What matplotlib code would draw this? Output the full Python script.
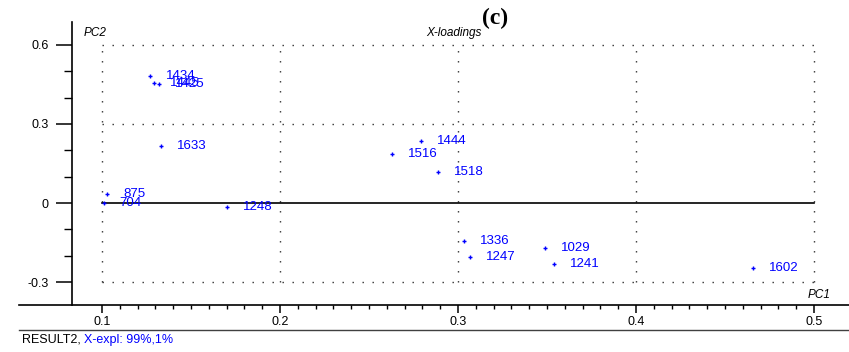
import numpy as np
import matplotlib
matplotlib.use("Agg")
import matplotlib.pyplot as plt
from matplotlib.ticker import FixedLocator
from matplotlib.lines import Line2D

plt.rcParams["font.family"] = ["Liberation Sans", "DejaVu Sans"]

# X-loadings
labels = ["1434", "1445", "1425", "1633", "875", "704", "1248",
          "1444", "1516", "1518", "1336", "1247", "1029", "1241", "1602"]
pc1 = [0.127, 0.129, 0.132, 0.133, 0.103, 0.101, 0.170,
       0.279, 0.263, 0.289, 0.3035, 0.307, 0.349, 0.354, 0.466]
pc2 = [0.483, 0.457, 0.452, 0.217, 0.035, -0.001, -0.016,
       0.234, 0.185, 0.119, -0.146, -0.204, -0.172, -0.232, -0.248]

x_major = [0.1, 0.2, 0.3, 0.4, 0.5]
y_major = [-0.3, 0, 0.3, 0.6]
x_labels = ["0.1", "0.2", "0.3", "0.4", "0.5"]
y_labels = ["-0.3", "0", "0.3", "0.6"]

W, H = 849, 352
fig = plt.figure(figsize=(W / 100, H / 100), dpi=100)
ax = fig.add_axes([19 / W, (H - 305) / H, 830 / W, 283 / H])
ax.set_xlim(0.0534, 0.5197)
ax.set_ylim(-0.387, 0.687)

for s in ["top", "right"]:
    ax.spines[s].set_visible(False)
ax.spines["left"].set_position(("data", 0.0831))   # y axis sits left of 0.1
ax.spines["left"].set_linewidth(1.2)
ax.spines["bottom"].set_linewidth(1.2)

ax.xaxis.set_major_locator(FixedLocator(x_major))
ax.set_xticklabels(x_labels)
ax.xaxis.set_minor_locator(FixedLocator(np.round(np.arange(0.10, 0.505, 0.01), 2)))
ax.yaxis.set_major_locator(FixedLocator(y_major))
ax.set_yticklabels(y_labels)
ax.yaxis.set_minor_locator(FixedLocator([-0.2, -0.1, 0.1, 0.2, 0.4, 0.5]))
ax.tick_params(axis="x", which="major", length=6, width=1.1, pad=2, labelsize=9)
ax.tick_params(axis="x", which="minor", length=3, width=1.0)
ax.tick_params(axis="y", which="major", length=11.5, width=1.1, pad=5, labelsize=9)
ax.tick_params(axis="y", which="minor", length=6, width=1.0)

# dotted grid boxes + solid zero line
dot = dict(color="#303030", lw=1.0, ls=(0, (1, 6.2)))
for xv in x_major:
    ax.plot([xv, xv], [-0.3, 0.6], **dot)
for yv in [-0.3, 0.3, 0.6]:
    ax.plot([0.1, 0.5], [yv, yv], **dot)
ax.plot([0.1, 0.5], [0, 0], color="black", lw=1.2)

ax.plot(pc1, pc2, ls="none", marker="+", ms=3.5, mew=1.0, color="blue")
for lab, xv, yv in zip(labels, pc1, pc2):
    ax.annotate(lab, (xv, yv), xytext=(11.5, 0), textcoords="offset points",
                ha="left", va="center", fontsize=9.5, color="blue")

fig.text(84 / W, 1 - 33 / H, "PC2", fontsize=8.5, style="italic", va="center")
fig.text(454 / W, 1 - 33 / H, "X-loadings", fontsize=8.5, style="italic",
         ha="center", va="center")
fig.text(819 / W, 1 - 295 / H, "PC1", fontsize=8.5, style="italic",
         ha="center", va="center")
fig.text(495 / W, 1 - 18 / H, "(c)", fontsize=17, fontweight="bold",
         family="Liberation Serif", ha="center", va="center")

# footer
fig.add_artist(Line2D([19 / W, 1], [1 - 330 / H, 1 - 330 / H],
                      transform=fig.transFigure, color="#404040", lw=1.0))
t1 = fig.text(22 / W, 1 - 340 / H, "RESULT2, ", fontsize=9, va="center")
ax.annotate("X-expl: 99%,1%", xy=(1, 0.5), xycoords=t1, va="center",
            ha="left", fontsize=9, color="blue", annotation_clip=False)

fig.savefig("out.png", dpi=100)
